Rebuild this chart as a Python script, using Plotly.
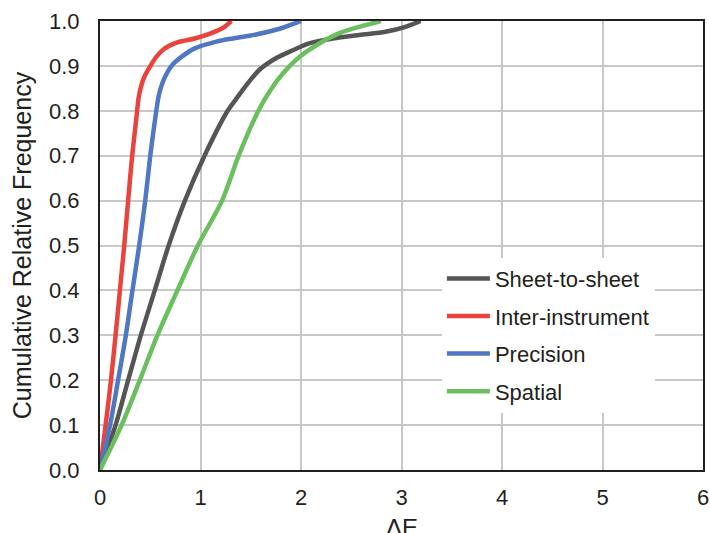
import plotly.graph_objects as go

# Cumulative relative frequency curves (ΔE vs CRF)
sheet_x = [0, 0.155, 0.28, 0.406, 0.545, 0.683, 0.845, 1.04, 1.27, 1.37, 1.47, 1.59, 1.75, 1.92, 2.08, 2.315, 2.58, 2.84, 3.04, 3.19]
sheet_y = [0, 0.1, 0.2, 0.3, 0.4, 0.5, 0.6, 0.7, 0.8, 0.831, 0.861, 0.892, 0.917, 0.935, 0.95, 0.961, 0.969, 0.976, 0.987, 1.0]

inter_x = [0, 0.056, 0.109, 0.155, 0.198, 0.241, 0.28, 0.32, 0.36, 0.385, 0.413, 0.446, 0.496, 0.56, 0.645, 0.777, 0.942, 1.108, 1.24, 1.307]
inter_y = [0, 0.1, 0.2, 0.3, 0.4, 0.5, 0.6, 0.7, 0.78, 0.83, 0.858, 0.878, 0.898, 0.92, 0.939, 0.953, 0.961, 0.973, 0.987, 1.0]

prec_x = [0, 0.1, 0.18, 0.257, 0.323, 0.39, 0.45, 0.50, 0.56, 0.585, 0.615, 0.661, 0.727, 0.81, 0.942, 1.158, 1.32, 1.488, 1.654, 1.82, 2.0]
prec_y = [0, 0.1, 0.2, 0.3, 0.4, 0.5, 0.6, 0.7, 0.8, 0.834, 0.858, 0.882, 0.904, 0.92, 0.939, 0.954, 0.961, 0.967, 0.975, 0.985, 1.0]

spat_x = [0, 0.215, 0.396, 0.571, 0.77, 0.974, 1.215, 1.38, 1.571, 1.687, 1.819, 1.984, 2.183, 2.381, 2.579, 2.795]
spat_y = [0, 0.1, 0.2, 0.3, 0.4, 0.5, 0.6, 0.7, 0.798, 0.843, 0.883, 0.92, 0.95, 0.973, 0.987, 1.0]

series = [
    ("Sheet-to-sheet", sheet_x, sheet_y, "#555555"),
    ("Inter-instrument", inter_x, inter_y, "#e8433d"),
    ("Precision", prec_x, prec_y, "#4f77c2"),
    ("Spatial", spat_x, spat_y, "#6bbf5f"),
]

x_ticks = [0, 1, 2, 3, 4, 5, 6]
y_ticks = [0.0, 0.1, 0.2, 0.3, 0.4, 0.5, 0.6, 0.7, 0.8, 0.9, 1.0]

FONT = "Liberation Sans, Arial, sans-serif"
TXT = "#231f20"

fig = go.Figure()
for name, xs, ys, col in series:
    fig.add_trace(go.Scatter(
        x=xs, y=ys, name=name, mode="lines", legendgroup=name,
        line=dict(color=col, width=4.5, shape="spline", smoothing=0.8),
    ))

fig.update_layout(
    width=710, height=533,
    margin=dict(l=100, r=7, t=21, b=63),
    paper_bgcolor="white", plot_bgcolor="white",
    font=dict(family=FONT, size=22, color=TXT),
    showlegend=True,
    legend=dict(
        x=0.567, y=0.473, xanchor="left", yanchor="top",
        bgcolor="white", borderwidth=0,
        font=dict(family=FONT, size=22, color=TXT),
        tracegroupgap=6, traceorder="grouped",
        itemwidth=43,
    ),
    xaxis=dict(
        range=[0, 6], tickvals=x_ticks, ticktext=[str(v) for v in x_ticks],
        showgrid=True, gridcolor="#c8c8c8", gridwidth=1.5,
        showline=True, linecolor="#231f20", linewidth=2, mirror=True,
        ticks="outside", ticklen=7, tickcolor="rgba(0,0,0,0)",
        tickfont=dict(family=FONT, size=22, color=TXT),
        zeroline=False, automargin=False,
    ),
    yaxis=dict(
        range=[0, 1], tickvals=y_ticks, ticktext=[f"{v:.1f}" for v in y_ticks],
        showgrid=True, gridcolor="#c8c8c8", gridwidth=1.5,
        showline=True, linecolor="#231f20", linewidth=2, mirror=True,
        ticks="outside", ticklen=14, tickcolor="rgba(0,0,0,0)",
        tickfont=dict(family=FONT, size=22, color=TXT),
        zeroline=False, automargin=False,
        title=dict(text="Cumulative Relative Frequency", font=dict(family=FONT, size=25, color=TXT), standoff=10),
    ),
    annotations=[dict(
        text="ΔE", xref="paper", yref="paper", x=0.5, y=-0.093,
        xanchor="center", yanchor="top", showarrow=False,
        font=dict(family=FONT, size=24, color=TXT),
    )],
)

fig.write_html("out.html")
